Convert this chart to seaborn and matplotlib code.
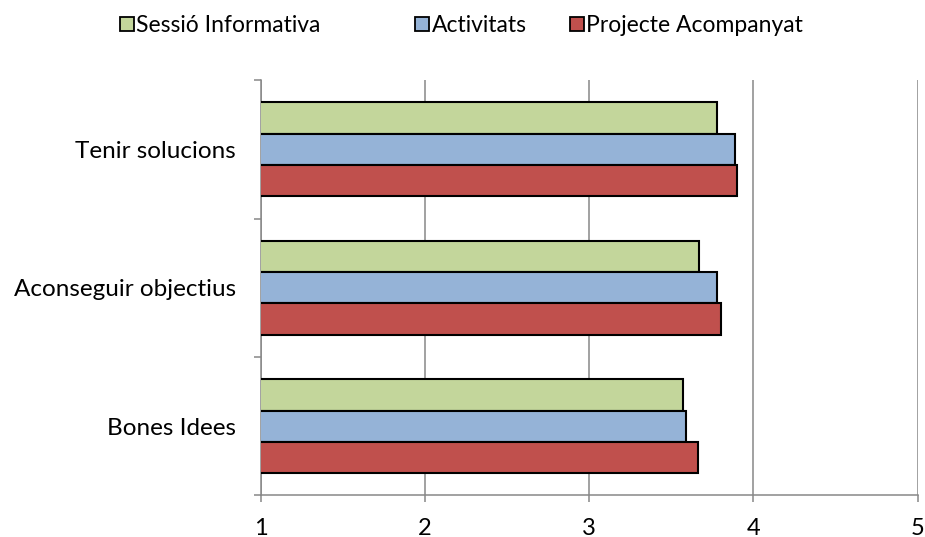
import matplotlib
matplotlib.use("Agg")
import matplotlib.pyplot as plt
import seaborn as sns
import pandas as pd
from matplotlib.patches import Patch

categories = ["Tenir solucions", "Aconseguir objectius", "Bones Idees"]
series = ["Sessió Informativa", "Activitats", "Projecte Acompanyat"]
sessio = [3.78, 3.67, 3.57]
activitats = [3.89, 3.78, 3.59]
projecte = [3.90, 3.80, 3.66]
x_ticks = [1, 2, 3, 4, 5]

colors = ["#C3D69B", "#95B3D7", "#C0504D"]
legend_x = [0.1297, 0.4486, 0.6162]

rows = []
for name, vals in zip(series, [sessio, activitats, projecte]):
    for cat, v in zip(categories, vals):
        rows.append({"categoria": cat, "serie": name, "valor": v})
df = pd.DataFrame(rows)

sns.set_theme(style="white")
plt.rcParams["font.family"] = ["Lato", "DejaVu Sans"]
plt.rcParams["text.color"] = "black"
plt.rcParams["xtick.labelcolor"] = "black"
plt.rcParams["ytick.labelcolor"] = "black"

fig = plt.figure(figsize=(9.25, 5.37), dpi=100)
ax = fig.add_axes([0.2822, 0.0773, 0.7097, 0.7737])

sns.barplot(data=df, x="valor", y="categoria", hue="serie", orient="h",
            order=categories, hue_order=series, palette=colors,
            saturation=1, width=0.68, edgecolor="black", linewidth=1.5,
            legend=False, ax=ax, zorder=3)

ax.set_xlim(1, 5)
ax.set_ylim(2.5, -0.5)
ax.set_xticks(x_ticks)
ax.set_xticklabels([str(t) for t in x_ticks], fontsize=17)
ax.xaxis.grid(True, color="#878787", linewidth=1.1, zorder=0)
ax.set_axisbelow(True)

# category boundaries get tick marks, labels sit at the centres
ax.set_yticks([-0.5, 0.5, 1.5, 2.5])
ax.set_yticklabels([])
ax.set_yticks(range(len(categories)), minor=True)
ax.set_yticklabels(categories, minor=True, fontsize=17.5)
ax.tick_params(axis="y", which="major", direction="out", length=5,
               width=1.1, color="#878787", left=True)
ax.tick_params(axis="y", which="minor", length=0, pad=18)
ax.tick_params(axis="x", direction="out", length=5, width=1.1,
               color="#878787", bottom=True, pad=11)

ax.set_xlabel("")
ax.set_ylabel("")
for side in ["top", "right"]:
    ax.spines[side].set_visible(False)
for side in ["left", "bottom"]:
    ax.spines[side].set_color("#878787")
    ax.spines[side].set_linewidth(1.1)

for name, col, lx in zip(series, colors, legend_x):
    fig.legend([Patch(facecolor=col, edgecolor="black", linewidth=1.3)], [name],
               loc="center left", bbox_to_anchor=(lx, 0.952), frameon=False,
               fontsize=16.5, handlelength=0.6, handleheight=0.6,
               handletextpad=0.12, borderpad=0, borderaxespad=0)

fig.savefig("out.png", dpi=100)
